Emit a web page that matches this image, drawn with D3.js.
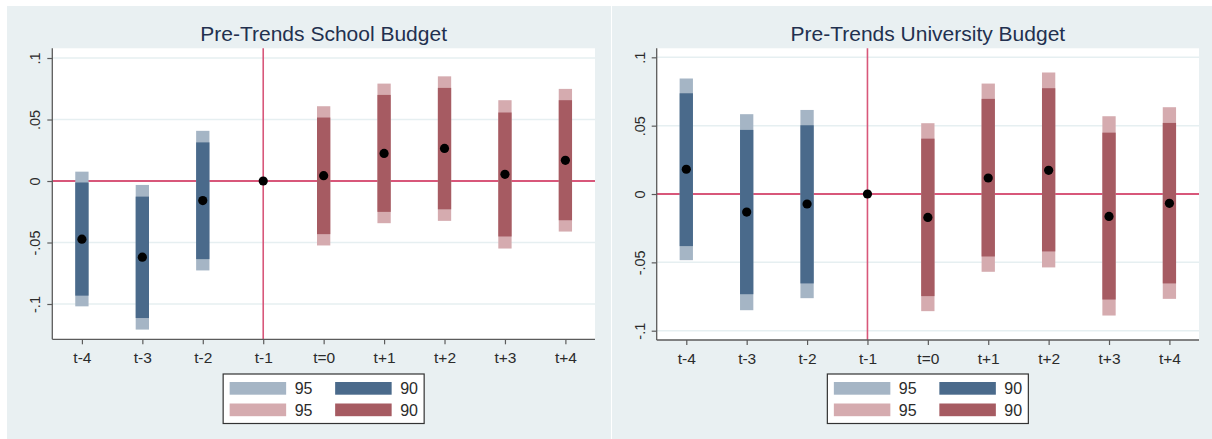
<!DOCTYPE html>
<html><head><meta charset="utf-8">
<script src="https://cdn.jsdelivr.net/npm/d3@7"></script>
<style>
html,body{margin:0;padding:0;background:#fff;}
svg{display:block;font-family:"Liberation Sans",Arial,sans-serif;}
</style></head>
<body><svg id="chart" width="1212" height="439"></svg>
<script>
// ---- data ----
const categories = ["t-4","t-3","t-2","t-1","t=0","t+1","t+2","t+3","t+4"];
const periodGroup = ["pre","pre","pre","ref","post","post","post","post","post"];
const yTicks = [-0.1,-0.05,0,0.05,0.1];
const yTickLabels = ["-.1","-.05","0",".05",".1"];
const legendLabels = ["95","90","95","90"];

const schoolTitle = "Pre-Trends School Budget";
const schoolCoef = [-0.0473,-0.0619,-0.0159,0,0.0043,0.0224,0.0265,0.0054,0.0168];
const schoolLo90 = [-0.0932,-0.1114,-0.0635,null,-0.0432,-0.0251,-0.0230,-0.0451,-0.0319];
const schoolHi90 = [-0.0012,-0.0127,0.0314,null,0.0516,0.0700,0.0757,0.0557,0.0657];
const schoolLo95 = [-0.1019,-0.1208,-0.0727,null,-0.0524,-0.0343,-0.0324,-0.0549,-0.0411];
const schoolHi95 = [0.0076,-0.0032,0.0408,null,0.0608,0.0792,0.0851,0.0657,0.0749];

const uniTitle = "Pre-Trends University Budget";
const uniCoef = [0.0181,-0.0132,-0.0073,0,-0.0171,0.0117,0.0173,-0.0164,-0.0068];
const uniLo90 = [-0.0381,-0.0733,-0.0654,null,-0.0747,-0.0457,-0.0420,-0.0772,-0.0654];
const uniHi90 = [0.0737,0.0469,0.0503,null,0.0405,0.0696,0.0774,0.0449,0.0520];
const uniLo95 = [-0.0484,-0.0850,-0.0762,null,-0.0857,-0.0569,-0.0537,-0.0889,-0.0767];
const uniHi95 = [0.0845,0.0584,0.0615,null,0.0518,0.0808,0.0889,0.0569,0.0635];

// ---- styles ----
const colors = {
  pre95:"#a5b5c5", pre90:"#4a6a8b",
  post95:"#d5abaf", post90:"#a65b62",
  ref:"#d8577a", bg:"#e9f0f2", grid:"#e6eff1", axis:"#5b5b5b",
  title:"#22304f", text:"#2b2b2b"
};

const svg = d3.select("#chart");

function panel(cfg){
  const g = svg.append("g");
  g.append("rect").attr("x",cfg.bx0).attr("y",6).attr("width",cfg.bx1-cfg.bx0).attr("height",439-6).attr("fill",colors.bg);
  const x = d3.scalePoint().domain(categories).range([cfg.px0,cfg.px1]).padding(0.49);
  const y = d3.scaleLinear().domain(cfg.ydom).range([cfg.py1,cfg.py0]);
  g.append("rect").attr("x",cfg.px0).attr("y",cfg.py0).attr("width",cfg.px1-cfg.px0).attr("height",cfg.py1-cfg.py0).attr("fill","#fff");
  g.append("g").selectAll("line").data(yTicks).join("line")
    .attr("x1",cfg.px0).attr("x2",cfg.px1)
    .attr("y1",d=>y(d)).attr("y2",d=>y(d))
    .attr("stroke",colors.grid).attr("stroke-width",1.5);
  g.append("line").attr("x1",cfg.px0).attr("x2",cfg.px1).attr("y1",y(0)).attr("y2",y(0))
    .attr("stroke",colors.ref).attr("stroke-width",2);
  g.append("line").attr("x1",x("t-1")).attr("x2",x("t-1")).attr("y1",cfg.py0).attr("y2",cfg.py1)
    .attr("stroke",colors.ref).attr("stroke-width",1.6);
  const rows = categories.map((c,i)=>({c,grp:periodGroup[i],coef:cfg.coef[i],lo90:cfg.lo90[i],hi90:cfg.hi90[i],lo95:cfg.lo95[i],hi95:cfg.hi95[i]}));
  const ci = rows.filter(r=>r.lo95!==null);
  const bw = 13.3;
  g.append("g").selectAll("rect").data(ci).join("rect")
    .attr("x",r=>x(r.c)-bw/2).attr("width",bw)
    .attr("y",r=>y(r.hi95)).attr("height",r=>y(r.lo95)-y(r.hi95))
    .attr("fill",r=>r.grp==="pre"?colors.pre95:colors.post95);
  g.append("g").selectAll("rect").data(ci).join("rect")
    .attr("x",r=>x(r.c)-bw/2).attr("width",bw)
    .attr("y",r=>y(r.hi90)).attr("height",r=>y(r.lo90)-y(r.hi90))
    .attr("fill",r=>r.grp==="pre"?colors.pre90:colors.post90);
  g.append("g").selectAll("circle").data(rows).join("circle")
    .attr("cx",r=>x(r.c)).attr("cy",r=>y(r.coef)).attr("r",4.6).attr("fill","#000");
  const ya = g.append("g").attr("transform",`translate(${cfg.px0},0)`)
    .call(d3.axisLeft(y).tickValues(yTicks).tickFormat((d,i)=>yTickLabels[i]).tickSize(5).tickSizeOuter(0));
  ya.select(".domain").attr("stroke",colors.axis).attr("stroke-width",1.3).attr("d",`M0,${cfg.py0}V${cfg.py1}`);
  ya.selectAll(".tick line").attr("stroke",colors.axis).attr("stroke-width",1.2);
  ya.selectAll(".tick text").attr("x",0).attr("dy",0).attr("y",0)
    .attr("transform","translate(-12,0) rotate(-90)")
    .attr("text-anchor","middle").attr("font-size",14.5).attr("fill",colors.text);
  const xa = g.append("g").attr("transform",`translate(0,${cfg.py1})`)
    .call(d3.axisBottom(x).tickSize(5).tickSizeOuter(0).tickPadding(5));
  xa.select(".domain").attr("stroke",colors.axis).attr("stroke-width",1.3).attr("d",`M${cfg.px0},0H${cfg.px1}`);
  xa.selectAll(".tick line").attr("stroke",colors.axis).attr("stroke-width",1.2);
  xa.selectAll(".tick text").attr("font-size",15.5).attr("fill",colors.text).attr("dy","0.9em");
  g.append("text").attr("x",(cfg.px0+cfg.px1)/2).attr("y",41).attr("text-anchor","middle")
    .attr("font-size",21).attr("fill",colors.title).text(cfg.title);
  const lw = 201, lh = 49.5;
  const lx = (cfg.px0+cfg.px1)/2 - lw/2, ly = 374;
  const lg = g.append("g").attr("transform",`translate(${lx},${ly})`);
  lg.append("rect").attr("width",lw).attr("height",lh).attr("fill","#fff").attr("stroke","#333").attr("stroke-width",1.2);
  const items = [
    {c:colors.pre95,col:0,row:0},{c:colors.pre90,col:1,row:0},
    {c:colors.post95,col:0,row:1},{c:colors.post90,col:1,row:1}
  ];
  items.forEach((it,i)=>{
    const sx = 6.5 + it.col*105.5, sy = 8 + it.row*21.5;
    lg.append("rect").attr("x",sx).attr("y",sy).attr("width",56.5).attr("height",12.7).attr("fill",it.c);
    lg.append("text").attr("x",sx+65).attr("y",sy+12).attr("font-size",16).attr("fill",colors.text).text(legendLabels[i]);
  });
}

panel({bx0:7,bx1:611,px0:52.3,px1:595,py0:48.3,py1:339.3,ydom:[-0.1287,0.1079],
  title:schoolTitle,coef:schoolCoef,lo90:schoolLo90,hi90:schoolHi90,lo95:schoolLo95,hi95:schoolHi95});
panel({bx0:612,bx1:1212,px0:656.7,px1:1199,py0:48.3,py1:340,ydom:[-0.1068,0.1066],
  title:uniTitle,coef:uniCoef,lo90:uniLo90,hi90:uniHi90,lo95:uniLo95,hi95:uniHi95});
</script></body></html>
